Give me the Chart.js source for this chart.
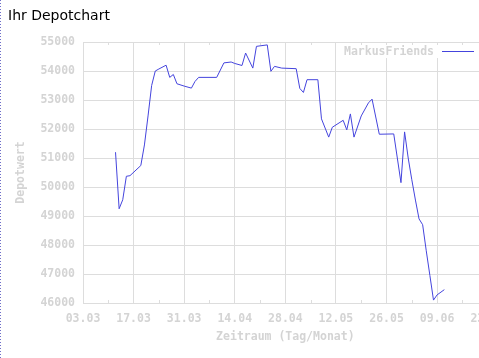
<!DOCTYPE html>
<html>
<head>
<meta charset="utf-8">
<title>Ihr Depotchart</title>
<script src="https://cdn.jsdelivr.net/npm/chart.js@4.4.1/dist/chart.umd.min.js"></script>
<style>
    html, body { margin: 0; padding: 0; background: #fff; overflow: hidden; }
    #wrap { position: relative; width: 479px; height: 358px; overflow: hidden; }
    #wrap canvas { position: absolute; left: 0; top: 0; }
    #edge {
        position: absolute; left: 0; top: 0; width: 1px; height: 358px;
        background: repeating-linear-gradient(to bottom, #6f6fc9 0 1px, transparent 1px 3px);
    }
</style>
</head>
<body>
<div id="wrap">
    <canvas id="myChart" width="514" height="358"></canvas>
    <div id="edge"></div>
</div>
<script>
// Depot values, one entry per trading day (Tag.Monat)
const dates = [
    '12.03', '13.03', '14.03', '15.03', '16.03', '19.03', '20.03', '21.03', '22.03', '23.03',
    '24.03', '26.03', '27.03', '28.03', '29.03', '31.03', '02.04', '03.04', '04.04', '09.04',
    '11.04', '13.04', '14.04', '16.04', '17.04', '19.04', '20.04', '23.04', '24.04', '25.04',
    '27.04', '01.05', '02.05', '03.05', '04.05', '07.05', '08.05', '10.05', '11.05', '14.05',
    '15.05', '16.05', '17.05', '19.05', '21.05', '22.05', '24.05', '28.05', '30.05', '31.05',
    '01.06', '02.06', '03.06', '04.06', '05.06', '06.06', '07.06', '08.06', '09.06', '11.06'
];
const depotValues = [
    51200, 49250, 49560, 50370, 50390, 50740, 51450, 52450, 53500, 54000,
    54070, 54200, 53780, 53880, 53560, 53480, 53410, 53640, 53780, 53780,
    54280, 54310, 54260, 54190, 54620, 54100, 54850, 54900, 53990, 54160,
    54100, 54080, 53400, 53260, 53700, 53700, 52350, 51720, 52060, 52300,
    51970, 52520, 51720, 52450, 52900, 53030, 51820, 51830, 50150, 51900,
    51000, 50250, 49550, 48900, 48700, 47800, 46950, 46100, 46280, 46460
];
const xTickLabels = ['03.03', '17.03', '31.03', '14.04', '28.04', '12.05', '26.05', '09.06', '23.06'];
const yMin = 46000, yMax = 55000, yStep = 1000;

const seriesName = 'MarkusFriends';
const lineColor = '#4444dd';
const greyText = '#d4d4d4';
const gridColor = '#dddddd';
const monoFont = { family: "'DejaVu Sans Mono', monospace", size: 11.5, weight: 'bold' };

// days since the first axis label
function dayOffset(s) {
    const [d, m] = s.split('.').map(Number);
    const [d0, m0] = xTickLabels[0].split('.').map(Number);
    return Math.round((Date.UTC(2008, m - 1, d) - Date.UTC(2008, m0 - 1, d0)) / 864e5);
}
const points = dates.map((d, i) => ({ x: dayOffset(d), y: depotValues[i] }));
const labelStep = dayOffset(xTickLabels[1]);

// small ticks half way between the labelled grid lines
const minorTicks = {
    id: 'minorTicks',
    beforeDatasetsDraw(chart) {
        const { ctx, chartArea: { top, bottom }, scales: { x } } = chart;
        ctx.save();
        ctx.strokeStyle = gridColor;
        ctx.lineWidth = 1;
        ctx.beginPath();
        x.ticks.forEach(t => {
            if (t.value % labelStep === 0) return;
            const px = Math.round(x.getPixelForValue(t.value)) + 0.5;
            ctx.moveTo(px, top); ctx.lineTo(px, top + 3);
            ctx.moveTo(px, bottom); ctx.lineTo(px, bottom - 3);
        });
        ctx.stroke();
        ctx.restore();
    }
};

// legend sits inside the plot, text first then the line sample
const plotLegend = {
    id: 'plotLegend',
    afterDatasetsDraw(chart) {
        const { ctx } = chart;
        const ds = chart.data.datasets[0];
        ctx.save();
        ctx.fillStyle = '#fff';
        ctx.fillRect(338, 45, 101, 13);
        ctx.font = `bold ${monoFont.size}px ${monoFont.family}`;
        ctx.fillStyle = greyText;
        ctx.textAlign = 'right';
        ctx.textBaseline = 'middle';
        ctx.fillText(ds.label, 434, 52);
        ctx.strokeStyle = ds.borderColor;
        ctx.lineWidth = 1;
        ctx.beginPath();
        ctx.moveTo(442, 51.5); ctx.lineTo(474, 51.5);
        ctx.stroke();
        ctx.restore();
    }
};

document.addEventListener('DOMContentLoaded', () => {
    const ctx = document.getElementById('myChart').getContext('2d');
    new Chart(ctx, {
        type: 'line',
        data: {
            datasets: [{
                label: seriesName,
                data: points,
                borderColor: lineColor,
                borderWidth: 1,
                pointRadius: 0,
                fill: false,
                tension: 0
            }]
        },
        options: {
            responsive: false,
            animation: false,
            layout: { padding: { left: 8, right: 0, top: 0, bottom: 0 } },
            plugins: {
                legend: { display: false },
                tooltip: { enabled: false },
                title: {
                    display: true,
                    text: 'Ihr Depotchart',
                    align: 'start',
                    color: '#000',
                    font: { family: "'DejaVu Sans', sans-serif", size: 14, weight: 'normal' },
                    padding: { top: 8, bottom: 17.2 }
                }
            },
            scales: {
                x: {
                    type: 'linear',
                    min: 0,
                    max: dayOffset(xTickLabels[xTickLabels.length - 1]),
                    afterFit: s => { s.height = 55; },
                    ticks: {
                        stepSize: labelStep / 2,
                        autoSkip: false,
                        maxRotation: 0,
                        padding: 9,
                        color: greyText,
                        font: monoFont,
                        callback: v => (v % labelStep === 0 ? xTickLabels[v / labelStep] : '')
                    },
                    grid: {
                        drawTicks: false,
                        color: c => (c.tick && c.tick.value % labelStep === 0 ? gridColor : 'rgba(0,0,0,0)')
                    },
                    border: { color: gridColor },
                    title: {
                        display: true,
                        text: 'Zeitraum (Tag/Monat)',
                        color: greyText,
                        font: monoFont,
                        padding: { top: 0, bottom: 14.5 }
                    }
                },
                y: {
                    min: yMin,
                    max: yMax,
                    afterFit: s => { s.width = 75; },
                    ticks: {
                        stepSize: yStep,
                        padding: 8,
                        color: greyText,
                        font: monoFont,
                        callback: v => String(v)
                    },
                    grid: { drawTicks: false, color: gridColor },
                    border: { color: gridColor },
                    title: {
                        display: true,
                        text: 'Depotwert',
                        color: greyText,
                        font: monoFont,
                        padding: { top: 6.2, bottom: 0 }
                    }
                }
            }
        },
        plugins: [minorTicks, plotLegend]
    });
});
</script>
</body>
</html>
